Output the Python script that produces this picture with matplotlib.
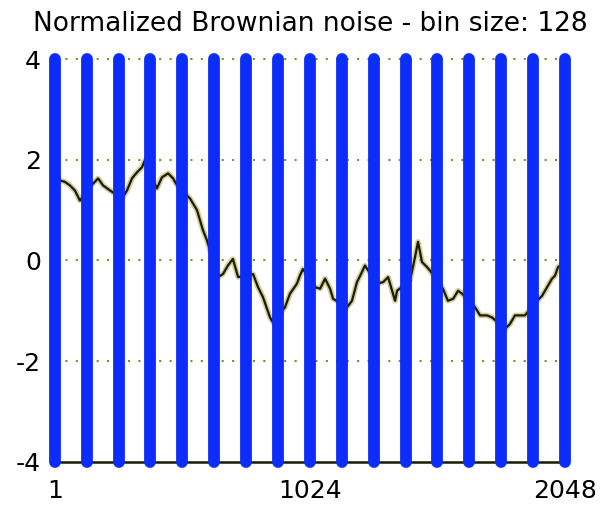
import matplotlib
matplotlib.use("Agg")
import matplotlib.pyplot as plt

plt.rcParams["axes.unicode_minus"] = False

# Normalized Brownian noise, sampled along the 2048-point record
sample_index = [
    1, 21, 41, 61, 81, 101,
    141, 174, 194, 222,
    270, 290, 310, 330, 350, 362,
    410, 430, 455, 475, 491,
    543, 571, 595, 611,
    655, 675, 695, 715, 736,
    796, 816, 836, 864, 876,
    924, 944, 972, 984, 996,
    1045, 1065, 1085, 1105, 1117,
    1173, 1193, 1213, 1233, 1245,
    1293, 1318, 1338, 1354, 1366, 1374,
    1426, 1446, 1458, 1474, 1494, 1506,
    1558, 1578, 1599, 1619, 1635,
    1687, 1707, 1735, 1755,
    1807, 1827, 1847, 1867, 1887,
    1936, 1956, 1976, 1996, 2008, 2020, 2048,
]
noise_value = [
    1.70, 1.59, 1.56, 1.49, 1.39, 1.19,
    1.46, 1.63, 1.49, 1.39,
    1.23, 1.39, 1.63, 1.75, 1.85, 1.99,
    1.43, 1.65, 1.73, 1.63, 1.49,
    1.23, 1.00, 0.60, 0.40,
    -0.33, -0.27, -0.10, 0.03, -0.33,
    -0.27, -0.53, -0.73, -1.13, -1.23,
    -0.93, -0.66, -0.46, -0.30, -0.17,
    -0.53, -0.56, -0.36, -0.56, -0.76,
    -0.93, -0.80, -0.43, -0.23, -0.10,
    -0.46, -0.43, -0.33, -0.60, -0.80, -0.60,
    -0.40, 0.07, 0.37, -0.03, -0.13, -0.20,
    -0.56, -0.80, -0.76, -0.60, -0.66,
    -0.93, -1.09, -1.09, -1.13,
    -1.36, -1.26, -1.09, -1.09, -1.09,
    -0.80, -0.70, -0.53, -0.36, -0.30, -0.13, -0.05,
]

# Bin boundaries (bin size 128)
bin_edges = [1, 128, 256, 384, 512, 640, 768, 896, 1024,
             1152, 1280, 1408, 1536, 1664, 1792, 1920, 2048]

x_ticks = [1, 1024, 2048]
y_ticks = [-4, -2, 0, 2, 4]
title_text = "Normalized Brownian noise - bin size: 128"

fig = plt.figure(figsize=(6.03, 5.07), dpi=100)
ax = fig.add_axes([0.0912, 0.0888, 0.8458, 0.7948])

ax.set_xlim(1, 2048)
ax.set_ylim(-4, 4)

# dotted horizontal grid
for yv in y_ticks[1:]:
    ax.axhline(yv, color="#8a8a20", linestyle=(0, (1, 4)), linewidth=1.5,
               zorder=1, clip_on=False)

# noise trace with a soft olive halo
ax.plot(sample_index, noise_value, color="#a8a040", linewidth=4.0, alpha=0.5,
        solid_joinstyle="round", zorder=2)
ax.plot(sample_index, noise_value, color="#1c1c00", linewidth=1.6,
        solid_joinstyle="round", zorder=3)

# bin boundary markers
ax.vlines(bin_edges, -4, 4, colors="#0c2cfa", linewidth=8.5,
          capstyle="round", zorder=4, clip_on=False)

ax.set_xticks(x_ticks)
ax.set_yticks(y_ticks)
ax.tick_params(axis="both", length=0, labelsize=18, colors="black")
ax.tick_params(axis="x", pad=12)
ax.tick_params(axis="y", pad=10)

for side in ("top", "right", "left"):
    ax.spines[side].set_visible(False)
ax.spines["bottom"].set_color("#1a1a00")
ax.spines["bottom"].set_linewidth(1.8)
ax.spines["bottom"].set_zorder(3)

ax.set_title(title_text, fontsize=19, pad=20)

fig.savefig("out.png", dpi=100)
